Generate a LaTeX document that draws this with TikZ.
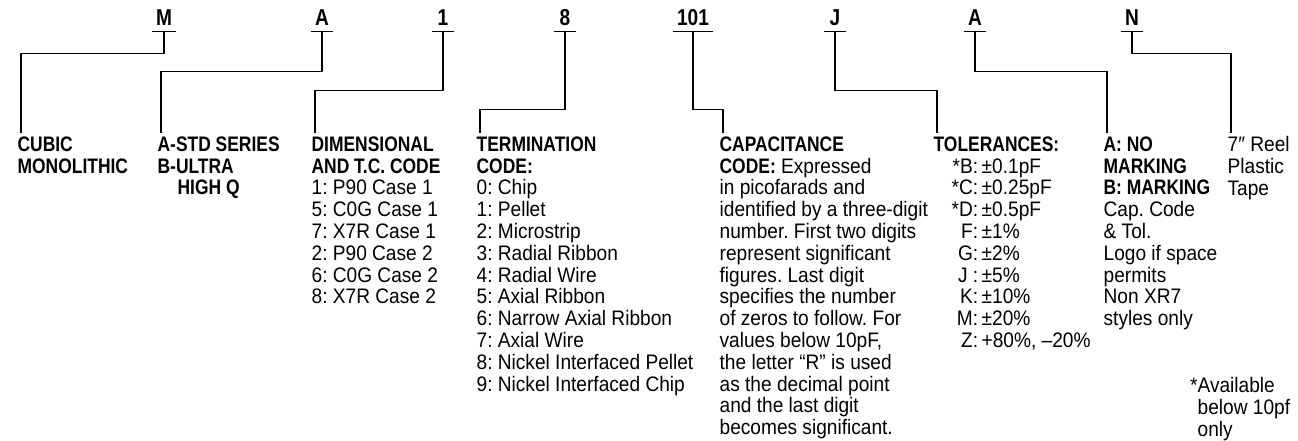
\documentclass[tikz,border=0pt]{standalone}
\usepackage{fontspec}
\setmainfont{Liberation Sans}[FakeStretch=0.91, BoldFeatures={FakeStretch=0.83}]
\usetikzlibrary{positioning}
\frenchspacing

\begin{document}
\begin{tikzpicture}[x=1pt, y=-1pt, line width=1.3pt,
  codeletter/.style={font=\fontsize{23}{24}\selectfont\bfseries, inner xsep=3.5pt, inner ysep=0pt, text depth=5pt, minimum width=21pt, anchor=base},
  column/.style={font=\fontsize{21}{21.8}\selectfont, align=left, inner sep=0pt, anchor=north west},
  head/.style={column, font=\fontsize{21}{21.8}\selectfont\bfseries}]
\useasboundingbox (0,0) rectangle (1298,441);
% part number code
\node[codeletter] (cm) at (164,26) {M};
\node[codeletter] (ca) at (322,26) {A};
\node[codeletter] (cd) at (443,26) {1};
\node[codeletter] (ct) at (565,26) {8};
\node[codeletter] (cc) at (693,26) {101};
\node[codeletter] (cj) at (835,26) {J};
\node[codeletter] (cmk) at (975,26) {A};
\node[codeletter] (cn) at (1132,26) {N};
\foreach \c in {cm,ca,cd,ct,cc,cj,cmk,cn}
  \draw (\c.south west) -- (\c.south east);
% explanations
\node[head] (cubic) at (17,136) {CUBIC\\MONOLITHIC};
\node[head] (series) at (157,136) {A-STD SERIES\\B-ULTRA\\\hspace{20pt}HIGH Q};
\node[column] (dims) at (311,136) {\textbf{DIMENSIONAL}\\\textbf{AND T.C. CODE}\\1: P90 Case 1\\5: C0G Case 1\\7: X7R Case 1\\2: P90 Case 2\\6: C0G Case 2\\8: X7R Case 2};
\node[column] (term) at (476,136) {\textbf{TERMINATION}\\\textbf{CODE:}\\0: Chip\\1: Pellet\\2: Microstrip\\3: Radial Ribbon\\4: Radial Wire\\5: Axial Ribbon\\6: Narrow Axial Ribbon\\7: Axial Wire\\8: Nickel Interfaced Pellet\\9: Nickel Interfaced Chip};
\node[column] (cap) at (719,136) {\textbf{CAPACITANCE}\\\textbf{CODE:} Expressed\\in picofarads and\\identified by a three-digit\\number. First two digits\\represent significant\\figures. Last digit\\specifies the number\\of zeros to follow. For\\values below 10pF,\\the letter “R” is used\\as the decimal point\\and the last digit\\becomes significant.};
\node[column] (tol) at (933,136) {\textbf{TOLERANCES:}\\\hspace{18pt}\begin{tabular}[t]{@{}r@{\,}l@{}}
  {*}B: & ±0.1pF\\ {*}C: & ±0.25pF\\ {*}D: & ±0.5pF\\ F: & ±1\%\\ G: & ±2\%\\
  J : & ±5\%\\ K: & ±10\%\\ M: & ±20\%\\ Z: & +80\%, –20\%
  \end{tabular}};
\node[column] (mark) at (1103,136) {\textbf{A: NO}\\\textbf{MARKING}\\\textbf{B: MARKING}\\Cap. Code\\\& Tol.\\Logo if space\\permits\\Non XR7\\styles only};
\node[column] (reel) at (1227,136) {7″ Reel\\Plastic\\Tape};
\node[column] (note) at (1197,377) {\llap{*}Available\\below 10pf\\only};
% connectors
\foreach \c/\t/\d in {cm/cubic/22, ca/series/40, cd/dims/59, ct/term/78, cc/cap/78, cj/tol/59, cmk/mark/40, cn/reel/22}
  \draw (\c.south) -- ++(0,\d) -| ([xshift=4pt,yshift=3pt]\t.north west);
\end{tikzpicture}
\end{document}
